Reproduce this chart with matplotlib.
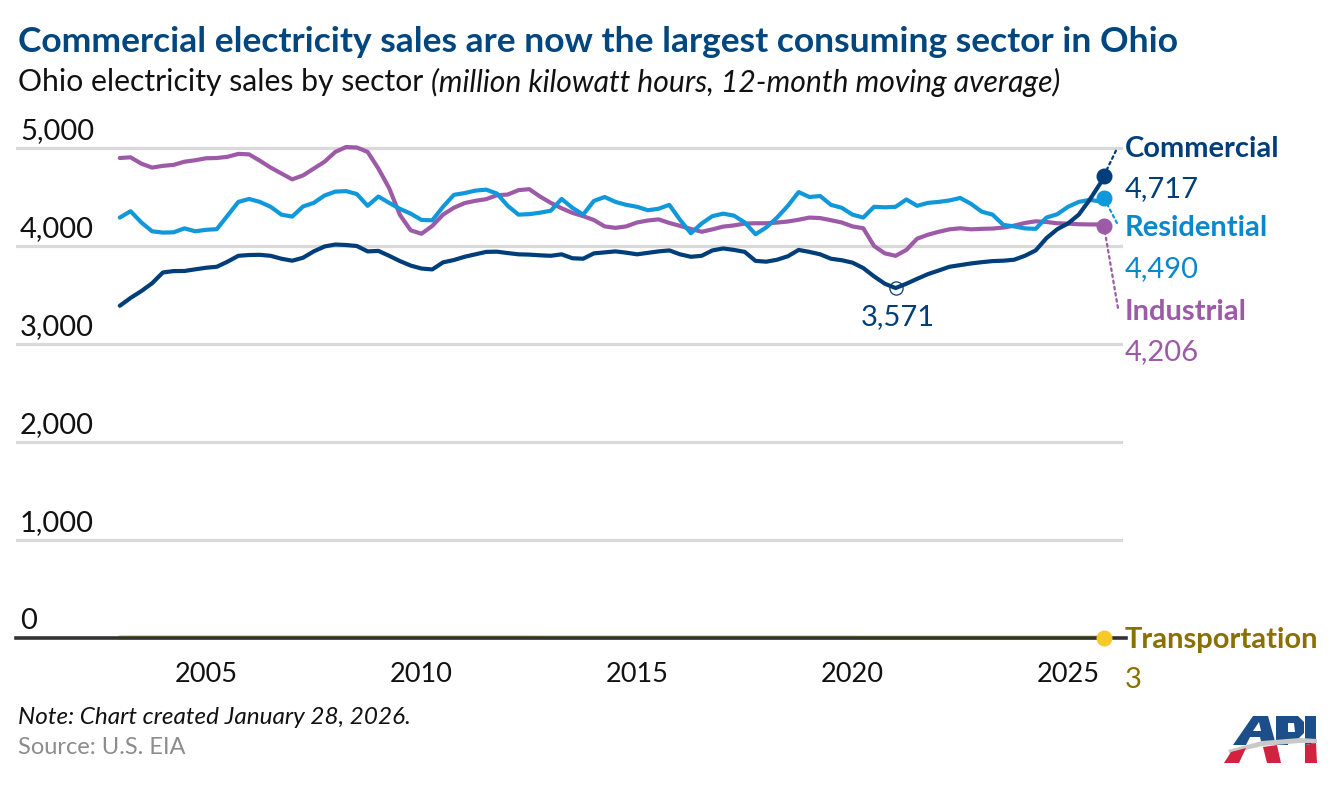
import numpy as np
import pandas as pd
import matplotlib
matplotlib.use("Agg")
import matplotlib.pyplot as plt
from matplotlib.patches import Polygon

plt.rcParams['font.family'] = ['Lato', 'DejaVu Sans']

# ---------------- data (12-month moving average, million kWh) ----------------
dates = list(pd.date_range('2003-01-01', '2025-10-01', freq='QS')) + [pd.Timestamp('2025-11-01')]

commercial = [
    3390, 3470, 3540, 3620, 3730, 3744, 3745, 3762, 3778, 3788, 3840, 3900, 3908, 3910, 3900, 3870, 3850, 3880, 3945, 3995, 4015, 4010, 4000,
    3945, 3950, 3900, 3846, 3800, 3770, 3761, 3833, 3857, 3890, 3915, 3940, 3942, 3928, 3915, 3912, 3905, 3900, 3915, 3875, 3870, 3925, 3935,
    3945, 3932, 3915, 3930, 3945, 3955, 3915, 3890, 3900, 3955, 3975, 3960, 3940, 3848, 3840, 3860, 3895, 3960, 3940, 3915, 3870, 3855, 3830,
    3775, 3690, 3615, 3571, 3615, 3665, 3713, 3750, 3788, 3805, 3822, 3835, 3846, 3850, 3860, 3900, 3955, 4080, 4171, 4230, 4320, 4470, 4640, 4717,
]
residential = [
    4290, 4355, 4240, 4150, 4137, 4140, 4180, 4150, 4165, 4172, 4310, 4450, 4480, 4450, 4400, 4320, 4300, 4403, 4440, 4515, 4555, 4560, 4530,
    4410, 4505, 4440, 4379, 4330, 4266, 4262, 4400, 4522, 4540, 4565, 4575, 4535, 4410, 4320, 4325, 4340, 4360, 4480, 4390, 4320, 4460, 4500,
    4450, 4420, 4400, 4365, 4380, 4420, 4266, 4130, 4230, 4305, 4330, 4310, 4240, 4120, 4190, 4290, 4410, 4550, 4500, 4510, 4420, 4390, 4320,
    4290, 4400, 4395, 4400, 4475, 4410, 4440, 4450, 4465, 4490, 4430, 4350, 4320, 4215, 4200, 4180, 4175, 4290, 4324, 4400, 4450, 4471, 4455, 4490,
]
industrial = [
    4898, 4905, 4840, 4800, 4818, 4828, 4860, 4875, 4895, 4898, 4910, 4940, 4935, 4870, 4800, 4740, 4680, 4720, 4790, 4860, 4960, 5010, 5005,
    4960, 4790, 4590, 4317, 4160, 4125, 4205, 4320, 4390, 4438, 4461, 4478, 4518, 4525, 4570, 4580, 4505, 4440, 4385, 4338, 4305, 4265, 4200,
    4185, 4200, 4240, 4260, 4272, 4235, 4205, 4174, 4145, 4170, 4198, 4210, 4229, 4232, 4232, 4239, 4250, 4268, 4290, 4285, 4263, 4240, 4200,
    4181, 4000, 3925, 3900, 3960, 4075, 4115, 4145, 4170, 4181, 4170, 4175, 4178, 4188, 4208, 4235, 4252, 4245, 4232, 4228, 4222, 4220, 4220, 4206,
]
transportation = [
    5, 5, 5, 5, 5, 5, 5, 5, 5, 5, 5, 5, 5, 5, 5, 5, 5, 5, 5, 5, 5, 5, 5,
    5, 5, 5, 5, 5, 5, 5, 5, 5, 5, 5, 5, 5, 5, 5, 5, 4, 4, 4, 4, 4, 4, 4,
    4, 4, 4, 4, 4, 4, 4, 4, 4, 4, 4, 4, 4, 4, 4, 4, 4, 4, 4, 4, 4, 4, 4,
    3, 3, 3, 3, 3, 3, 3, 3, 3, 3, 3, 3, 3, 3, 3, 3, 3, 3, 3, 3, 3, 3, 3, 3,
]
series_names = ['Commercial', 'Residential', 'Industrial', 'Transportation']
y_ticks = [0, 1000, 2000, 3000, 4000, 5000]
x_ticks = [2005, 2010, 2015, 2020, 2025]

title = 'Commercial electricity sales are now the largest consuming sector in Ohio'
subtitle_a = 'Ohio electricity sales by sector '
subtitle_b = '(million kilowatt hours, 12-month moving average)'
note = 'Note: Chart created January 28, 2026.'
source = 'Source: U.S. EIA'

# ---------------- styling ----------------
W, H = 1340, 788
fig = plt.figure(figsize=(W / 100, H / 100), dpi=100)

def fx(x):
    return x / W

def fy(y):
    return 1 - y / H

line_colors = {'Commercial': '#003E7A', 'Residential': '#1098DA',
               'Industrial': '#9C5AA7', 'Transportation': '#F4C928'}
label_colors = {'Commercial': '#003E7A', 'Residential': '#0A88CC',
                'Industrial': '#9C5AA7', 'Transportation': '#8A7000'}

ax_left, ax_right = 16, 1123
ax_top, ax_bot = 138.2, 652.7
ax = fig.add_axes([fx(ax_left), fy(ax_bot), fx(ax_right) - fx(ax_left), fy(ax_top) - fy(ax_bot)])

t = np.array([d.year + (d.month - 1) / 12 for d in dates])
px_per_year = (1068 - 206) / 20.0
x0 = 2005 - (206 - ax_left) / px_per_year
x1 = 2005 + (ax_right - 206) / px_per_year
ax.set_xlim(x0, x1)
ax.set_ylim(-150, 5100)
for s in ax.spines.values():
    s.set_visible(False)

# grid lines
for v in y_ticks[1:]:
    ax.axhline(v, color='#d9d9d9', lw=2.3, zorder=1)

data = {'Commercial': commercial, 'Residential': residential,
        'Industrial': industrial, 'Transportation': transportation}

# transportation line below axis line
ax.plot(t, transportation, color=line_colors['Transportation'], lw=3.2, zorder=2,
        solid_capstyle='round')
ax.axhline(0, xmin=0, xmax=1.003, color='#333333', lw=2.6, zorder=3, clip_on=False)

for name in ['Industrial', 'Residential', 'Commercial']:
    ax.plot(t, data[name], color=line_colors[name], lw=3.0, zorder=4,
            solid_capstyle='round', solid_joinstyle='round', clip_on=False)

# end dots
for name in series_names:
    ax.plot(t[-1], data[name][-1], 'o', ms=10.5, color=line_colors[name], zorder=6, clip_on=False)

# dotted leaders
leaders = {'Commercial': (12, 25), 'Residential': (13, -25), 'Industrial': (14, -82)}
for name, off in leaders.items():
    ax.annotate('', xy=(t[-1], data[name][-1]), xytext=off, textcoords='offset pixels',
                arrowprops=dict(arrowstyle='-', ls=(0, (1.2, 1.6)), color=line_colors[name],
                                lw=1.6, shrinkA=0, shrinkB=5), zorder=5, annotation_clip=False)

# end labels
label_offsets = {'Commercial': (21, 27, -13), 'Residential': (21, -30, -71),
                 'Industrial': (21, -86, -126), 'Transportation': (21, -2, -42)}
for name in series_names:
    dx, dy_name, dy_val = label_offsets[name]
    ax.annotate(name, xy=(t[-1], data[name][-1]), xytext=(dx, dy_name), textcoords='offset pixels',
                ha='left', va='center', fontsize=21, fontweight='bold', color=label_colors[name],
                annotation_clip=False)
    ax.annotate(f"{data[name][-1]:,}", xy=(t[-1], data[name][-1]), xytext=(dx, dy_val),
                textcoords='offset pixels', ha='left', va='center', fontsize=21,
                color=label_colors[name], annotation_clip=False)

# minimum annotation for commercial (recent low)
recent = t > 2015
imin = int(np.flatnonzero(recent)[np.argmin(np.array(commercial)[recent])])
ax.plot(t[imin], commercial[imin], 'o', ms=9.5, mfc='none', mec=line_colors['Commercial'],
        mew=0.9, zorder=7)
ax.annotate(f"{commercial[imin]:,}", xy=(t[imin], commercial[imin]), xytext=(2, -29),
            textcoords='offset pixels', ha='center', va='center', fontsize=21,
            color=line_colors['Commercial'])

# y tick labels above gridlines
ax.set_yticks([])
for v in y_ticks:
    ax.annotate(f"{v:,}", xy=(0, v), xycoords=('axes fraction', 'data'), xytext=(4, 9),
                textcoords='offset pixels', ha='left', va='baseline', fontsize=21, color='#111111',
                annotation_clip=False)

# x ticks
ax.set_xticks(x_ticks)
ax.set_xticklabels([str(x) for x in x_ticks], fontsize=19.5, color='#111111')
ax.tick_params(axis='x', length=0, pad=7)

# titles and notes
fig.text(fx(18), fy(42), title, fontsize=25.5, fontweight='bold', color='#00467F', va='center', ha='left')
st = fig.text(fx(18), fy(82), subtitle_a, fontsize=21.7, color='#111111', va='center', ha='left')
fig.canvas.draw()
bb = st.get_window_extent()
fig.text(bb.x1 / W, fy(82), subtitle_b, fontsize=21.7, style='italic', color='#111111', va='center', ha='left')
fig.text(fx(18), fy(717), note, fontsize=17.5, style='italic', color='#111111', va='center', ha='left')
fig.text(fx(18), fy(748), source, fontsize=17, color='#8c8c8c', va='center', ha='left')

# API logo (approximate)
def poly(pts, color, z=10):
    fig.patches.append(Polygon([(fx(x), fy(y)) for x, y in pts], closed=True, transform=fig.transFigure,
                               facecolor=color, edgecolor='none', zorder=z))

blue, red, grey = '#1C4E8A', '#D32240', '#C9C9C9'
# A
poly([(1233, 745), (1253, 716), (1268, 716), (1276, 745), (1262, 745), (1260, 737), (1250, 737), (1246, 745)], blue)
poly([(1253, 731), (1259, 722), (1261, 731)], 'white', 11)
# P
poly([(1276, 716), (1298, 716), (1304, 722), (1304, 733), (1298, 739), (1288, 739), (1288, 745), (1276, 745)], blue)
poly([(1288, 723), (1294, 723), (1295, 732), (1288, 732)], 'white', 11)
# I
poly([(1305, 716), (1316, 716), (1316, 743), (1305, 745)], blue)
# swoosh
poly([(1228, 750), (1262, 741), (1300, 738), (1317, 739), (1317, 743), (1300, 743), (1262, 746), (1230, 754)], grey)
# red feet
poly([(1224, 763), (1231, 752), (1246, 748), (1239, 763)], red)
poly([(1263, 747), (1277, 745), (1281, 763), (1267, 763)], red)
poly([(1305, 745), (1316, 743), (1317, 763), (1305, 763)], red)

fig.savefig('out.png', dpi=100)
